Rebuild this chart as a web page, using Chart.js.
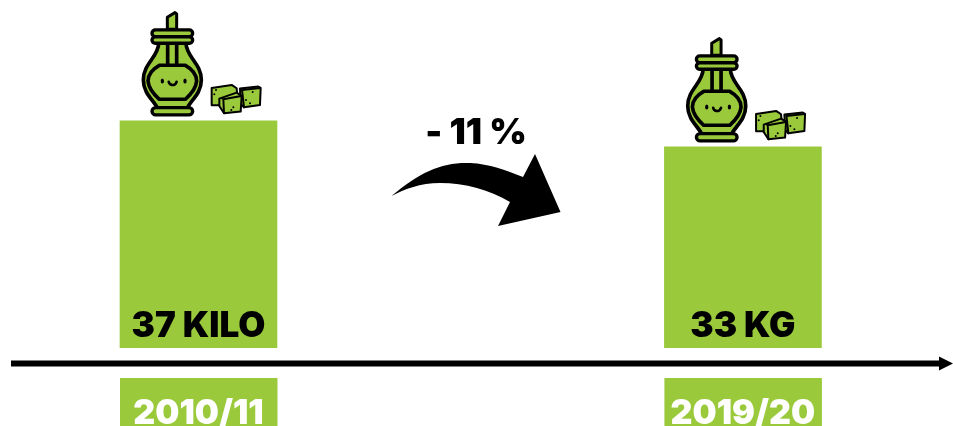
<!DOCTYPE html>
<html>
<head>
  <meta charset="utf-8">
  <title>Zucker</title>
  <script src="https://cdn.jsdelivr.net/npm/chart.js"></script>
  <style>
    html, body { margin: 0; padding: 0; background: white; overflow: hidden; }
    canvas { display: block; }
  </style>
</head>
<body>
<canvas id="sugarChart" width="953" height="426"></canvas>
<script>
  const seasons = ['2010/11', '', '2019/20'];
  const kilos = [37, null, 33];
  const barLabels = ['37 KILO', '', '33 KG'];
  const changeLabel = '- 11 %';

  const GREEN = '#9aca3c';
  const FONT = '"Inter", "Liberation Sans", sans-serif';

  function roundBox(ctx, x, y, w, h, r) {
    ctx.beginPath();
    ctx.roundRect(x, y, w, h, r);
    ctx.fill();
    ctx.stroke();
  }

  function poly(ctx, pts) {
    ctx.beginPath();
    pts.forEach((p, i) => i ? ctx.lineTo(p[0], p[1]) : ctx.moveTo(p[0], p[1]));
    ctx.closePath();
    ctx.fill();
    ctx.stroke();
  }

  function dots(ctx, pts) {
    pts.forEach(p => {
      ctx.beginPath();
      ctx.arc(p[0], p[1], 3, 0, Math.PI * 2);
      ctx.fillStyle = 'black';
      ctx.fill();
    });
    ctx.fillStyle = GREEN;
  }

  // icon is sketched in a 3x grid whose origin sits at the bar's top left corner
  function drawSugar(ctx, left, top) {
    ctx.save();
    ctx.translate(left, top - 121);
    ctx.scale(1 / 3, 1 / 3);
    ctx.fillStyle = GREEN;
    ctx.strokeStyle = 'black';
    ctx.lineWidth = 9;
    ctx.lineJoin = 'round';

    // spout
    poly(ctx, [[142, 88], [142, 52], [165, 38], [170, 42], [170, 88]]);

    // jar body
    ctx.lineWidth = 11;
    ctx.beginPath();
    ctx.moveTo(116, 130);
    ctx.bezierCurveTo(116, 170, 70, 190, 70, 240);
    ctx.bezierCurveTo(70, 280, 100, 300, 112, 324);
    ctx.lineTo(202, 324);
    ctx.bezierCurveTo(214, 300, 244, 280, 244, 240);
    ctx.bezierCurveTo(244, 190, 198, 170, 198, 130);
    ctx.closePath();
    ctx.fill();
    ctx.stroke();

    // stem
    ctx.beginPath();
    ctx.moveTo(143, 130); ctx.lineTo(143, 195);
    ctx.moveTo(170, 130); ctx.lineTo(170, 195);
    ctx.stroke();

    // glass
    ctx.beginPath();
    ctx.moveTo(118, 196);
    ctx.lineTo(196, 196);
    ctx.quadraticCurveTo(230, 215, 230, 243);
    ctx.quadraticCurveTo(228, 270, 196, 298);
    ctx.lineTo(118, 298);
    ctx.quadraticCurveTo(86, 270, 84, 243);
    ctx.quadraticCurveTo(84, 215, 118, 196);
    ctx.closePath();
    ctx.fill();
    ctx.stroke();

    // lid and foot
    ctx.lineWidth = 10;
    roundBox(ctx, 96, 90, 122, 20, 10);
    roundBox(ctx, 96, 111, 122, 19, 10);
    roundBox(ctx, 96, 323, 122, 22, 11);

    // face
    ctx.fillStyle = 'black';
    [127, 195].forEach(x => {
      ctx.beginPath();
      ctx.ellipse(x, 243, 5, 7.5, 0, 0, Math.PI * 2);
      ctx.fill();
    });
    ctx.lineWidth = 8;
    ctx.lineCap = 'round';
    ctx.beginPath();
    ctx.arc(158, 243, 12, 0.2, Math.PI - 0.2);
    ctx.stroke();
    ctx.fillStyle = GREEN;

    // sugar cubes
    ctx.lineWidth = 6;
    poly(ctx, [[275, 264], [335, 255], [350, 265], [352, 290], [300, 316], [275, 316]]);
    dots(ctx, [[288, 270], [283, 283]]);
    poly(ctx, [[360, 266], [415, 260], [422, 264], [420, 315], [372, 322], [362, 312]]);
    ctx.beginPath(); ctx.moveTo(366, 270); ctx.lineTo(420, 264); ctx.moveTo(366, 270); ctx.lineTo(372, 322); ctx.stroke();
    dots(ctx, [[378, 300], [390, 310], [398, 276]]);
    poly(ctx, [[298, 296], [350, 278], [365, 288], [362, 335], [312, 340], [298, 318]]);
    ctx.beginPath(); ctx.moveTo(310, 298); ctx.lineTo(364, 288); ctx.moveTo(310, 298); ctx.lineTo(312, 340); ctx.stroke();
    dots(ctx, [[307, 296], [340, 322], [334, 330]]);
    ctx.restore();
  }

  function drawChangeArrow(ctx) {
    ctx.save();
    ctx.fillStyle = 'black';
    ctx.beginPath();
    ctx.moveTo(391.5, 196);
    ctx.bezierCurveTo(420, 172, 442, 162, 470, 163);
    ctx.bezierCurveTo(490, 164, 505, 170, 523, 177);
    ctx.lineTo(535, 154);
    ctx.lineTo(560.5, 212);
    ctx.lineTo(498, 226);
    ctx.lineTo(510, 202);
    ctx.bezierCurveTo(490, 190, 465, 183, 440, 183);
    ctx.bezierCurveTo(420, 183, 405, 189, 391.5, 196);
    ctx.closePath();
    ctx.fill();

    ctx.font = '900 36px ' + FONT;
    ctx.textAlign = 'center';
    ctx.textBaseline = 'alphabetic';
    ctx.fillText(changeLabel, 476, 144);
    ctx.restore();
  }

  function drawTimeline(ctx) {
    ctx.save();
    ctx.fillStyle = 'black';
    ctx.fillRect(11, 360.5, 932, 6);
    ctx.beginPath();
    ctx.moveTo(939, 356.5);
    ctx.lineTo(953, 363.5);
    ctx.lineTo(939, 370.5);
    ctx.closePath();
    ctx.fill();
    ctx.restore();
  }

  const decorations = {
    id: 'decorations',
    beforeDraw(chart) {
      // green boxes behind the x tick labels
      const ctx = chart.ctx;
      const meta = chart.getDatasetMeta(0);
      ctx.save();
      ctx.fillStyle = GREEN;
      meta.data.forEach((bar, i) => {
        if (kilos[i] === null) return;
        ctx.fillRect(bar.x - 78.5, 378, 157.5, 48);
      });
      ctx.restore();
    },
    afterDatasetsDraw(chart) {
      const ctx = chart.ctx;
      const meta = chart.getDatasetMeta(0);
      meta.data.forEach((bar, i) => {
        if (kilos[i] === null) return;
        ctx.save();
        ctx.fillStyle = 'black';
        ctx.font = '900 35px ' + FONT;
        ctx.textAlign = 'center';
        ctx.textBaseline = 'alphabetic';
        ctx.fillText(barLabels[i], bar.x, 337);
        ctx.restore();
        drawSugar(ctx, bar.x - 78.5, bar.y);
      });
      drawTimeline(ctx);
      drawChangeArrow(ctx);
    }
  };

  new Chart(document.getElementById('sugarChart').getContext('2d'), {
    type: 'bar',
    data: {
      labels: seasons,
      datasets: [{
        data: kilos,
        backgroundColor: GREEN,
        borderWidth: 0,
        barThickness: 157
      }]
    },
    options: {
      responsive: false,
      animation: false,
      devicePixelRatio: 1,
      layout: { padding: { left: 62.4, right: 74 } },
      plugins: { legend: { display: false }, tooltip: { enabled: false } },
      scales: {
        x: {
          afterFit: scale => { scale.height = 78; },
          grid: { display: false },
          border: { display: false },
          ticks: {
            autoSkip: false,
            maxRotation: 0,
            color: 'white',
            padding: 37,
            font: { family: FONT, size: 34, weight: '900' }
          }
        },
        y: { display: false, min: 2.08, max: 55.6 }
      }
    },
    plugins: [decorations]
  });
</script>
</body>
</html>
